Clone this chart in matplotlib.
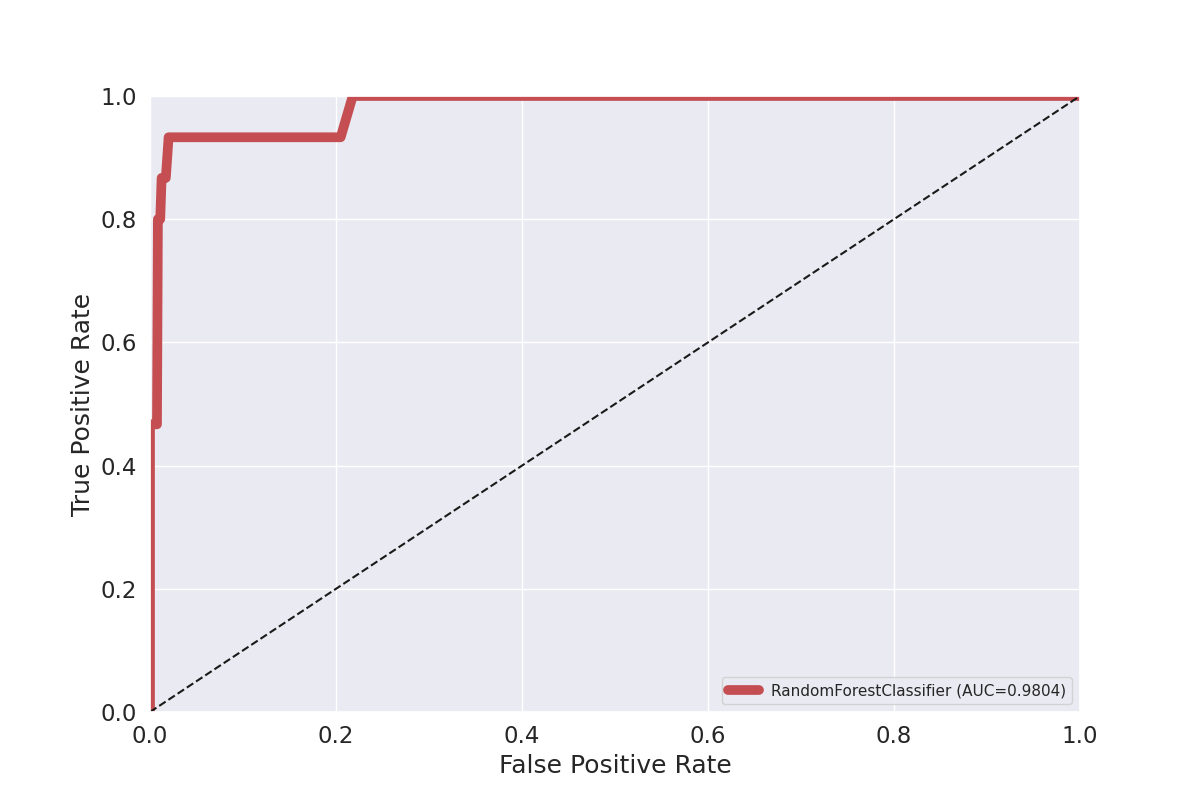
import matplotlib
matplotlib.use("Agg")
import matplotlib.pyplot as plt
import seaborn as sns

sns.set_theme(style="darkgrid", font_scale=1.5)
plt.rcParams['font.family'] = ['DejaVu Sans']

fpr = [0.0, 0.0, 0.0075, 0.0085, 0.011, 0.0125, 0.017, 0.020, 0.205, 0.218, 1.0]
tpr = [0.0, 0.467, 0.467, 0.8, 0.8, 0.867, 0.867, 0.933, 0.933, 1.0, 1.0]
label = "RandomForestClassifier (AUC=0.9804)"

fig, ax = plt.subplots(figsize=(12, 8), dpi=100)
ax.plot(fpr, tpr, color="#c44e52", linewidth=7, label=label)
ax.plot([0, 1], [0, 1], "k--", linewidth=1.5)
ax.set_xlim(0, 1)
ax.set_ylim(0, 1)
ax.set_xlabel("False Positive Rate")
ax.set_ylabel("True Positive Rate")
ax.legend(loc="lower right", fontsize=11)
fig.savefig("out.png")
